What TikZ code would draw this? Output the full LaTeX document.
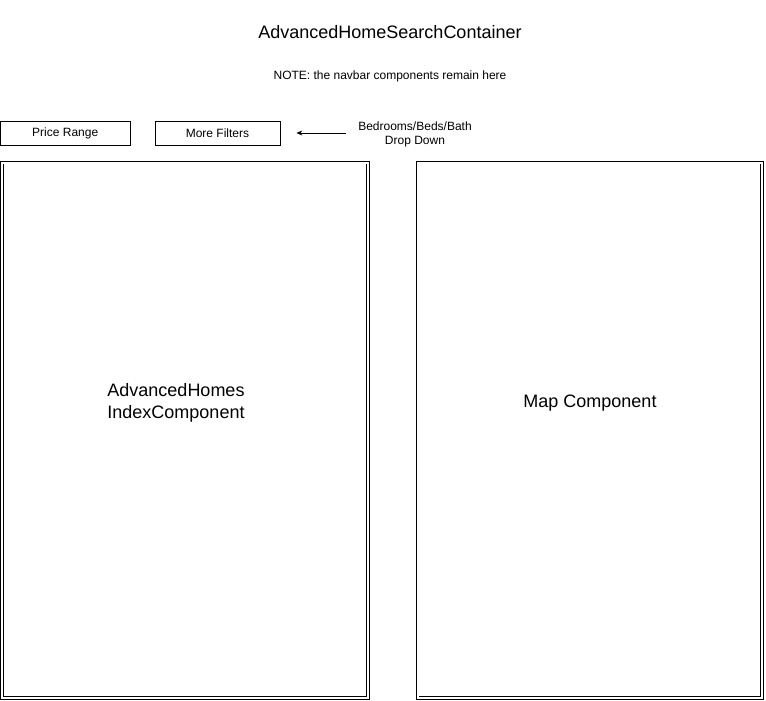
\documentclass[tikz,border=0pt]{standalone}
\usepackage{fontspec}
\setmainfont{Liberation Sans}
\usetikzlibrary{arrows.meta}

\begin{document}
\begin{tikzpicture}
	[x=1pt,y=-1pt,
	 filterbox/.style={draw,line width=0.8pt,minimum width=#1,minimum height=24pt,inner sep=0pt,font=\fontsize{12}{14}\selectfont},
	 panel/.style={draw,double,line width=0.9pt,double distance=2pt},
	 note/.style={inner sep=0pt,align=center,font=\fontsize{12}{14}\selectfont},
	 label/.style={inner sep=0pt,font=\fontsize{18}{22}\selectfont}]
	\useasboundingbox (0,0) rectangle (766,701);
	% text
	\node[label] (title) at (390,32) {AdvancedHomeSearchContainer};
	\node[note] (navnote) at (390,76) {NOTE: the navbar components remain here};
	% filters
	\node[filterbox=129.5pt] (price) at (65.25,133) {Price Range};
	\node[filterbox=125pt] (more) at (217.5,133) {More Filters};
	\node[note] (beds) at (415,134) {Bedrooms/Beds/Bath\\Drop Down};
	\draw[-{Stealth[length=6pt,width=5pt]},line width=0.8pt,shorten <=12pt,shorten >=16pt] (beds.west|-more) -- (more.east);
	% panels
	\draw[panel] (2,162.5) rectangle (368,698);
	\draw[panel] (417.5,162.5) rectangle (762,698);
	\node[label,align=left] (index) at (176,403) {AdvancedHomes\\IndexComponent};
	\node[label] (map) at (590,403) {Map Component};
\end{tikzpicture}
\end{document}
